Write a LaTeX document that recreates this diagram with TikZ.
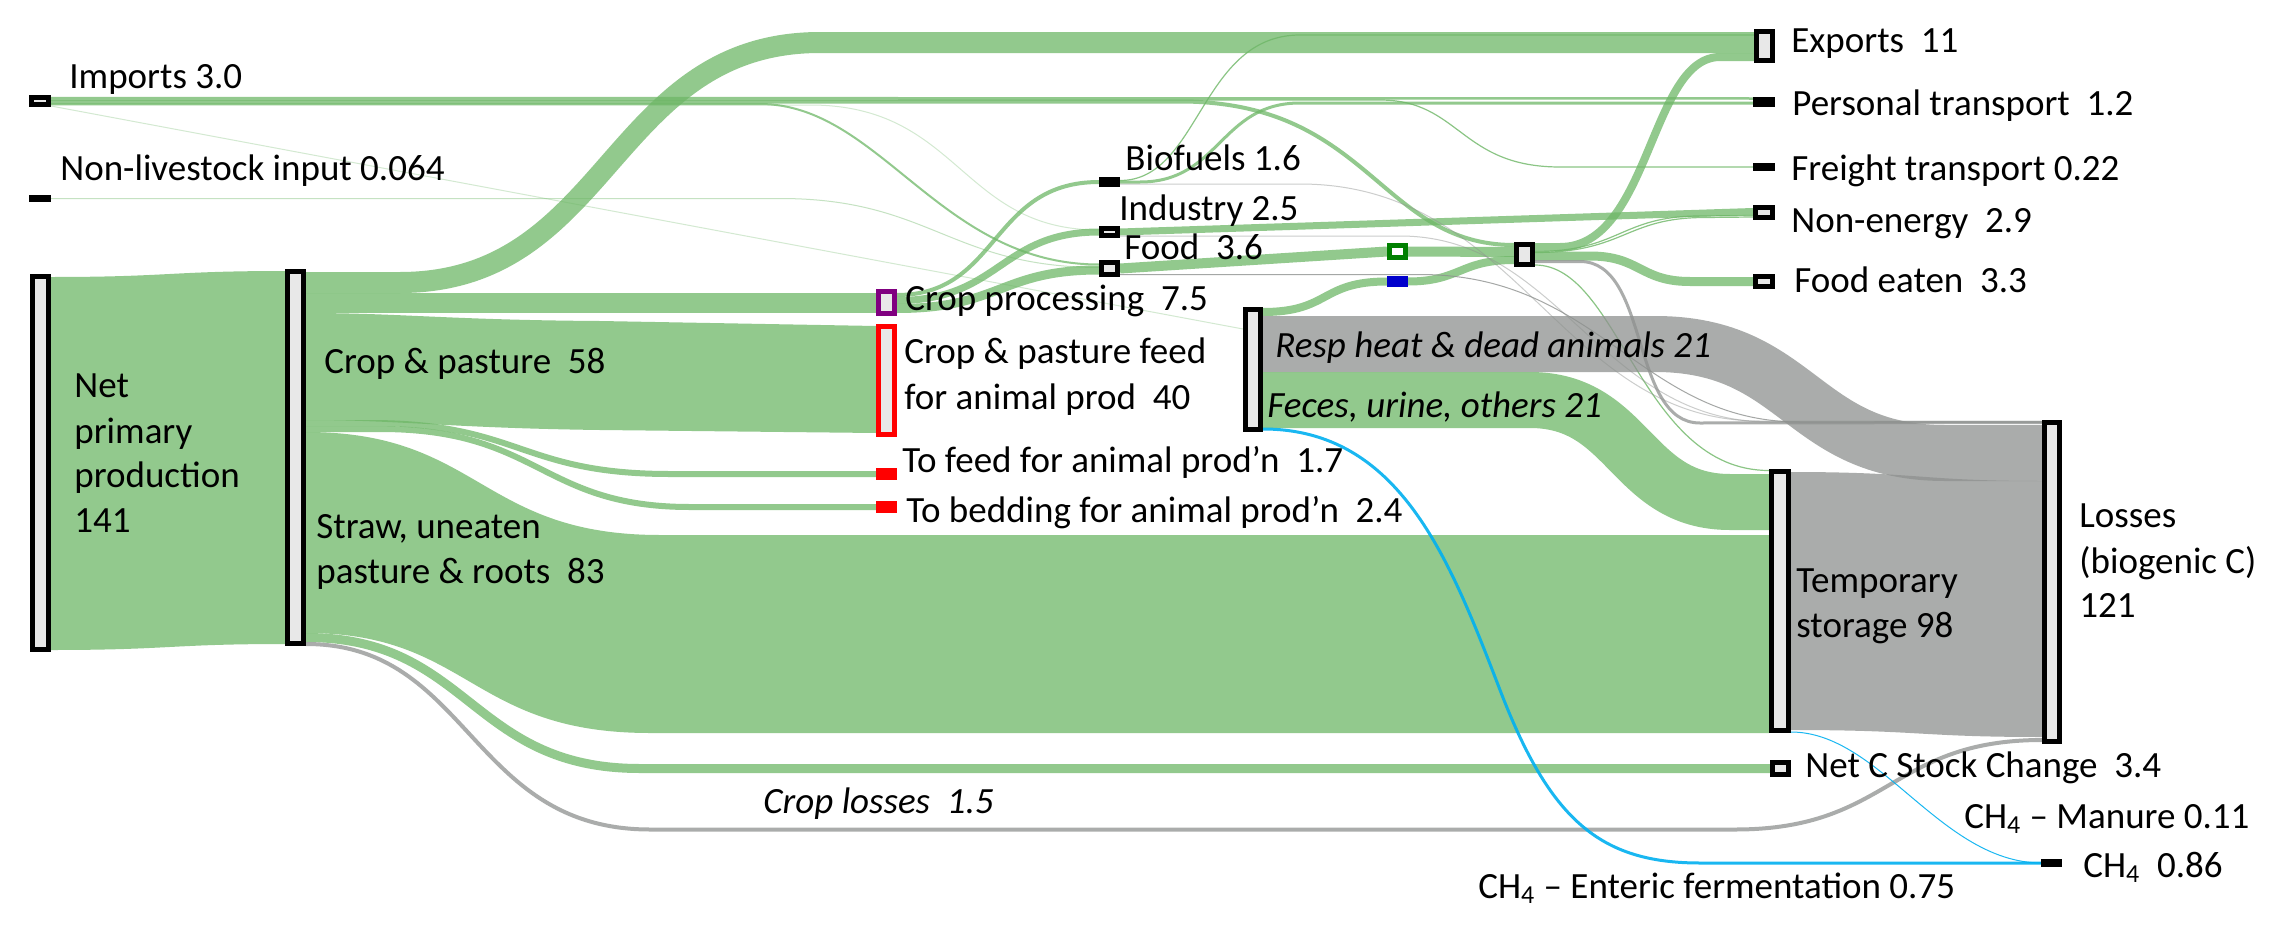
\documentclass[tikz,border=0pt]{standalone}
\usepackage{fontspec}
\setmainfont{Carlito}
\usetikzlibrary{calc,backgrounds}
\definecolor{gbase}{RGB}{110,183,103}
\definecolor{grbase}{RGB}{142,145,143}
\definecolor{boxfill}{RGB}{232,232,232}
\definecolor{cyanl}{RGB}{0,176,240}
\definecolor{purp}{RGB}{128,0,128}
\definecolor{dgreen}{RGB}{0,128,0}
\definecolor{bluen}{RGB}{0,0,204}
\begin{document}
\begin{tikzpicture}[x=0.5pt,y=-0.5pt,
  pw/.style={line width=#1*0.5pt},
  nbox/.style={draw=black, fill=boxfill, line width=2.5pt, inner sep=0pt, outer sep=1.25pt, minimum width=8pt},
  nsolid/.style={fill=black, draw=none, inner sep=0pt, outer sep=0pt, minimum width=10.5pt},
  gband/.style={draw=gbase, draw opacity=0.75, line cap=butt},
  gfill/.style={fill=gbase, fill opacity=0.75},
  grband/.style={draw=grbase, draw opacity=0.75, line cap=butt},
  grfill/.style={fill=grbase, fill opacity=0.75},
  gthin/.style={draw=gbase, draw opacity=0.8, line width=0.6pt},
  gfaint/.style={draw=gbase, draw opacity=0.3, line width=0.5pt},
  grthin/.style={draw=grbase, draw opacity=0.45, line width=0.5pt},
  ch4l/.style={draw=cyanl, draw opacity=0.9, line cap=butt},
  lab/.style={anchor=base west, inner sep=0pt, font=\fontsize{18.5}{22}\selectfont},
  labi/.style={lab, font=\fontsize{18.5}{22}\selectfont\itshape}
]
\useasboundingbox (0,0) rectangle (2276,926);

% ---------- nodes ----------
\node[nbox, minimum width=8.5pt, minimum height=3.5pt] (imp) at (40,101) {};
\node[nsolid, minimum width=11pt, minimum height=3.5pt] (nli) at (40,198.5) {};
\node[nbox, minimum height=186.5pt] (npp) at (40.5,463) {};
\node[nbox, minimum height=186pt] (crop) at (295.5,457.5) {};
\node[nbox, draw=purp, minimum height=11pt] (cproc) at (886.5,302.5) {};
\node[nbox, draw=red, minimum height=54pt] (feed) at (886.5,380.5) {};
\node[nsolid, fill=red, minimum height=6pt] (tofeed) at (886.5,474) {};
\node[nsolid, fill=red, minimum height=6pt] (bed) at (886.5,507) {};
\node[nsolid, minimum height=5pt] (bio) at (1109.5,182) {};
\node[nbox, minimum height=3.5pt] (ind) at (1109.5,232) {};
\node[nbox, minimum height=6pt] (food) at (1109.5,268.5) {};
\node[nbox, minimum width=7.5pt, minimum height=60pt] (anim) at (1253,369.5) {};
\node[nbox, draw=dgreen, fill=white, minimum height=6pt] (gnode) at (1397.5,251.5) {};
\node[nsolid, fill=bluen, minimum height=5.5pt] (bnode) at (1397.5,281.5) {};
\node[nbox, minimum height=10pt] (coll) at (1524.5,254.5) {};
\node[nbox, minimum height=14.5pt] (exp) at (1764.5,46) {};
\node[nsolid, minimum width=11pt, minimum height=5pt] (pers) at (1764,102) {};
\node[nsolid, minimum width=11pt, minimum height=4pt] (frei) at (1764,167) {};
\node[nbox, minimum width=8.5pt, minimum height=5pt] (nonen) at (1764,212.5) {};
\node[nbox, minimum width=8.5pt, minimum height=5pt] (fooda) at (1764,281.5) {};
\node[nbox, minimum width=8.5pt, minimum height=129.5pt] (temp) at (1780,601) {};
\node[nbox, minimum width=7.5pt, minimum height=159.5pt] (loss) at (2052,582) {};
\node[nbox, minimum height=6pt] (netc) at (1780.5,768.5) {};
\node[nsolid, minimum height=4pt] (ch4) at (2051.5,863) {};

% ---------- flows ----------
\begin{pgfonlayer}{background}
\fill[white] (0,0) rectangle (2276,926);
% NPP -> crop & pasture / straw
\fill[gfill] ($(npp.north east)+(0,3)$) .. controls (170,277) and (170,271) .. ($(crop.north west)+(0,2)$) -- ($(crop.south west)+(0,-2)$) .. controls (170,644) and (170,650) .. ($(npp.south east)+(0,-2)$) -- cycle;
% crop -> exports
\draw[gband,pw=21] ($(crop.north east)+(0,13.5)$) -- (400,282.5) .. controls (610,282.5) and (610,42.5) .. (820,42.5) -- ($(exp.north west)+(0,13.5)$);
% crop -> crop processing
\draw[gband,pw=20] ($(crop.north east)+(0,34)$) -- ($(cproc.north west)+(0,14)$);
% crop -> feed
\fill[gfill] ($(crop.north east)+(0,44)$) .. controls (400,313) and (450,320) .. (600,321) -- ($(feed.north west)+(0,2)$) -- ($(feed.south west)+(0,-4)$) -- (600,430) .. controls (450,428) and (400,420) .. ($(crop.north east)+(0,151)$) -- cycle;
% crop -> to feed, bedding
\draw[gband,pw=6] ($(crop.north east)+(0,154)$) -- (370,423) .. controls (520,423) and (520,474) .. (670,474) -- (tofeed.west);
\draw[gband,pw=6] ($(crop.north east)+(0,160)$) -- (380,429) .. controls (540,429) and (540,507) .. (690,507) -- (bed.west);
% straw -> temporary storage
\fill[gfill] ($(crop.north east)+(0,163)$) .. controls (480,432) and (480,535) .. (660,535) -- ($(temp.north west)+(0,66)$) -- (temp.south west) -- (650,733) .. controls (470,733) and (470,633) .. ($(crop.south east)+(0,-13)$) -- cycle;
% straw -> net C stock change
\draw[gband,pw=9] ($(crop.south east)+(0,-8.5)$) .. controls (470,637.5) and (470,768.5) .. (640,768.5) -- (netc.west);
% crop losses
\draw[grband,pw=4] ($(crop.south east)+(0,-2)$) .. controls (470,644) and (470,829.5) .. (650,829.5) -- (1735,829.5) .. controls (1890,829.5) and (1890,740) .. ($(loss.south west)+(0,-4)$);
% crop processing -> biofuels, industry, food
\draw[gband,pw=4] ($(cproc.north east)+(0,6)$) .. controls (1000,295) and (990,182) .. (bio.west);
\draw[gband,pw=7] ($(cproc.north east)+(0,11.5)$) .. controls (1000,300.5) and (1000,232) .. (ind.west);
\draw[gband,pw=9] ($(cproc.north east)+(0,19.5)$) .. controls (1000,308.5) and (1000,270) .. ($(food.west)+(0,1.5)$);
% food -> green node -> collector
\draw[gband,pw=10] (food.east) -- (gnode.west);
\draw[gband,pw=10] (gnode.east) -- ($(coll.north west)+(0,10)$);
% animal prod -> blue node -> collector
\draw[gband,pw=8] ($(anim.north east)+(0,5)$) .. controls (1330,312) and (1320,281.5) .. (bnode.west);
\draw[gband,pw=8] (bnode.east) .. controls (1460,281.5) and (1460,260) .. ($(coll.north west)+(0,18)$);
% industry -> non-energy
\draw[gband,pw=7] (ind.east) -- ($(nonen.west)+(0,-1)$);
% collector -> exports, food eaten, non-energy, losses, temporary storage
\draw[gband,pw=8] ($(coll.north east)+(0,5)$) -- (1560,247) .. controls (1650,247) and (1650,57) .. (1720,57) -- ($(exp.north west)+(0,28)$);
\draw[gband,pw=9] ($(coll.north east)+(0,14)$) -- (1590,256) .. controls (1640,256) and (1640,281.5) .. (1690,281.5) -- (fooda.west);
\draw[gthin] ($(coll.north east)+(0,9.5)$) .. controls (1620,251.5) and (1620,216) .. (1700,216) -- ($(nonen.west)+(0,3)$);
\draw[gthin] ($(coll.north east)+(0,10.5)$) .. controls (1625,252.5) and (1625,217.5) .. (1705,217.5) -- ($(nonen.west)+(0,4.5)$);
\draw[grband,pw=3] ($(coll.north east)+(0,19.5)$) -- (1580,261.5) .. controls (1650,261.5) and (1630,423) .. (1700,423) -- ($(loss.north west)+(0,2.5)$);
\draw[gthin] ($(coll.south east)+(0,-2)$) .. controls (1620,265) and (1640,470.5) .. ($(temp.north west)+(0,1.5)$);
% imports
\draw[gband,pw=2.5] ($(imp.east)+(0,-3)$) -- ($(pers.west)+(0,-3.5)$);
\draw[gband,pw=4] ($(imp.east)+(0,0.5)$) -- (1180,101.5) .. controls (1370,101.5) and (1380,245) .. ($(coll.north west)+(0,3)$);
\draw[gband,pw=2] ($(imp.east)+(0,3)$) -- (760,104) .. controls (880,104) and (940,264.5) .. ($(food.west)+(0,-4)$);
\draw[gthin] ($(imp.east)+(0,-1)$) -- (1380,100) .. controls (1460,100) and (1460,167) .. (1560,167) -- (frei.west);
\draw[gfaint] ($(imp.east)+(0,4)$) -- (810,105) .. controls (960,105) and (960,230) .. ($(ind.west)+(0,-2)$);
\draw[gfaint] ($(imp.east)+(0,5)$) -- ($(anim.north west)+(0,22)$);
\draw[gfaint, draw opacity=0.4] (nli.east) -- (780,198.5) .. controls (930,198.5) and (950,267) .. ($(food.west)+(0,-1)$);
% biofuels -> personal transport, exports
\draw[gband,pw=3] (bio.east) -- (1140,182) .. controls (1220,182) and (1220,103) .. (1300,103) -- ($(pers.west)+(0,1)$);
\draw[gthin] ($(bio.east)+(0,-1.5)$) .. controls (1200,180.5) and (1200,35) .. (1300,35) -- ($(exp.north west)+(0,6)$);
% thin grey lines to losses
\draw[grthin] ($(bio.east)+(0,2)$) -- (1300,184) .. controls (1520,184) and (1560,421) .. (1760,421) -- ($(loss.north west)+(0,1)$);
\draw[grthin] ($(ind.east)+(0,4)$) -- (1400,236) .. controls (1560,236) and (1600,422) .. (1770,422) -- ($(loss.north west)+(0,2)$);
\draw[grthin, draw opacity=0.8] ($(food.east)+(0,6)$) -- (1420,274.5) .. controls (1600,274.5) and (1640,422) .. (1800,422) -- ($(loss.north west)+(0,2)$);
% animal prod -> resp heat, feces
\draw[grband,pw=56] ($(anim.north east)+(0,37)$) -- (1655,344) .. controls (1800,344) and (1800,453) .. (1945,453) -- ($(loss.north west)+(0,33)$);
\draw[gband,pw=56] ($(anim.north east)+(0,93)$) -- (1530,400) .. controls (1630,400) and (1630,502) .. (1730,502) -- ($(temp.north west)+(0,33)$);
% temporary storage -> losses
\fill[grfill] ($(temp.north east)+(0,3)$) .. controls (1920,472) and (1920,481) .. ($(loss.north west)+(0,61)$) -- ($(loss.south west)+(0,-7)$) .. controls (1920,737) and (1920,730) .. ($(temp.south east)+(0,-3)$) -- cycle;
% methane
\draw[ch4l,pw=3] ($(anim.south east)+(0,-3)$) .. controls (1400,429) and (1450,560) .. (1500,690) .. controls (1550,820) and (1600,863) .. (1700,863) -- (ch4.west);
\draw[ch4l,pw=1] ($(temp.south east)+(0,-1)$) .. controls (1880,732) and (1940,862) .. (ch4.west);
\end{pgfonlayer}

% ---------- labels ----------
\node[lab] (limp) at (69,88) {Imports 3.0};
\node[lab] (lnli) at (60,180) {Non-livestock input 0.064};
\node[lab] (lnpp1) at (74,397) {Net};
\node[lab] (lnpp2) at (74,443) {primary};
\node[lab] (lnpp3) at (74,487) {production};
\node[lab] (lnpp4) at (74,532) {141};
\node[lab] (lcp) at (324,373) {Crop \& pasture~ 58};
\node[lab] (lst1) at (316,538) {Straw, uneaten};
\node[lab] (lst2) at (316,583) {pasture \& roots~ 83};
\node[lab] (lcproc) at (905,310) {Crop processing~ 7.5};
\node[lab] (lfeed1) at (904,363) {Crop \& pasture feed};
\node[lab] (lfeed2) at (904,409) {for animal prod~ 40};
\node[lab] (ltofeed) at (902,472) {To feed for animal prod’n~ 1.7};
\node[lab] (lbed) at (906,522) {To bedding for animal prod’n~ 2.4};
\node[lab] (lbio) at (1125,170) {Biofuels 1.6};
\node[lab] (lind) at (1119,220) {Industry 2.5};
\node[lab] (lfood) at (1124,259) {Food~ 3.6};
\node[labi] (lresp) at (1275,357) {Resp heat \& dead animals 21};
\node[labi] (lfec) at (1267,417) {Feces, urine, others 21};
\node[lab] (lexp) at (1791,52) {Exports~ 11};
\node[lab] (lpers) at (1792,115) {Personal transport~ 1.2};
\node[lab] (lfrei) at (1791,180) {Freight transport 0.22};
\node[lab] (lnonen) at (1791,232) {Non-energy~ 2.9};
\node[lab] (lfooda) at (1794,292) {Food eaten~ 3.3};
\node[lab] (ltemp1) at (1796,592) {Temporary};
\node[lab] (ltemp2) at (1796,637) {storage 98};
\node[lab] (lloss1) at (2079,527) {Losses};
\node[lab] (lloss2) at (2079,573) {(biogenic C)};
\node[lab] (lloss3) at (2079,617) {121};
\node[lab] (lnetc) at (1805,777) {Net C Stock Change~ 3.4};
\node[lab] (lman) at (1964,828) {CH\textsubscript{4} – Manure 0.11};
\node[lab] (lch4) at (2083,877) {CH\textsubscript{4}~ 0.86};
\node[lab] (lent) at (1478,898) {CH\textsubscript{4} – Enteric fermentation 0.75};
\node[labi] (lcl) at (763,813) {Crop losses~ 1.5};
\end{tikzpicture}
\end{document}
